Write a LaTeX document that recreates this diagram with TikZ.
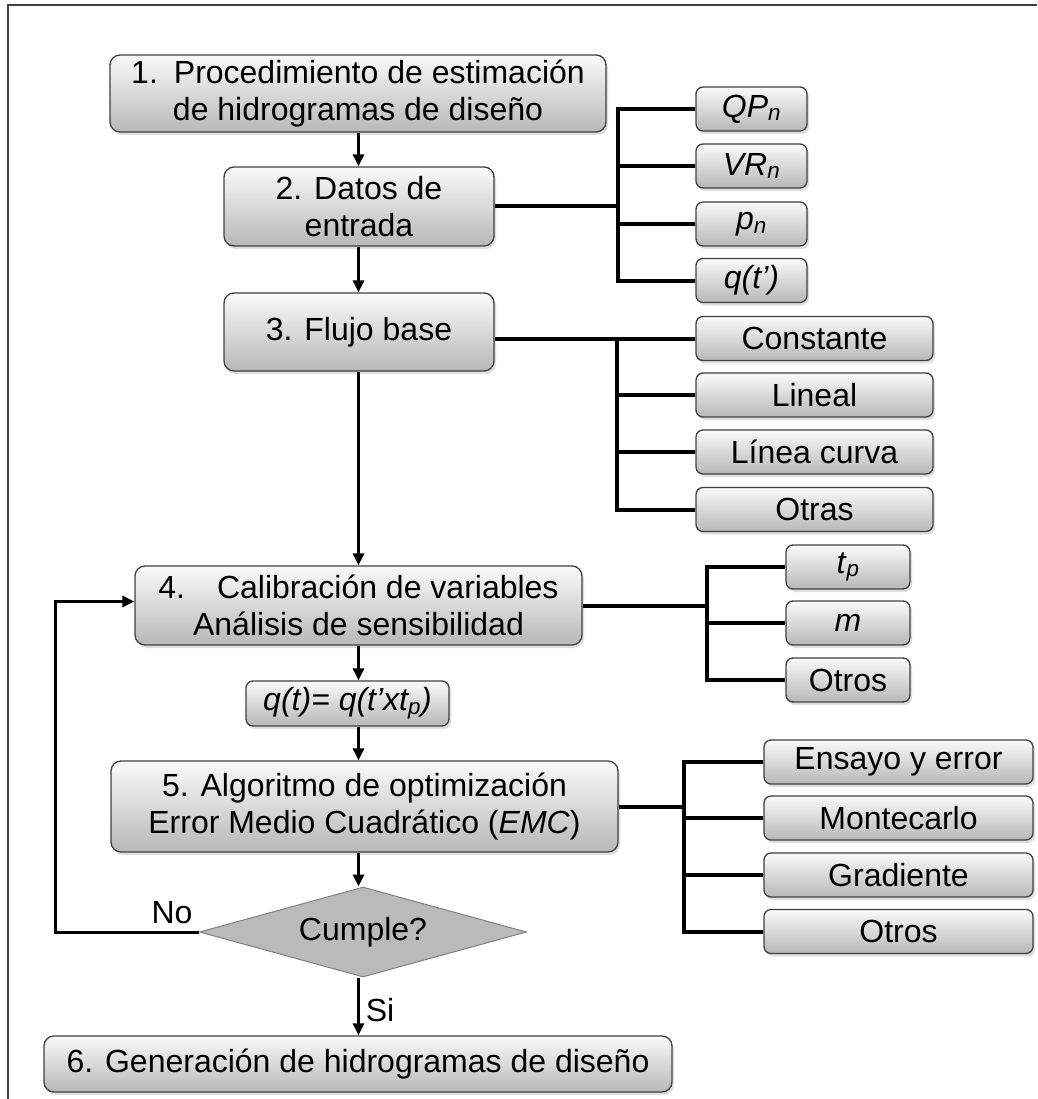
\documentclass[tikz,border=0pt]{standalone}
\usepackage{fontspec}
\setmainfont{Liberation Sans}
\usetikzlibrary{shapes.geometric,shadows,arrows.meta}
\newcommand\myfont{\fontsize{32}{37}\selectfont}
\tikzset{
  box/.style={draw=black!75, line width=1.3pt, rounded corners=10pt,
    top color=black!2, bottom color=black!28,
    drop shadow={opacity=0.25, shadow xshift=2pt, shadow yshift=-3pt},
    align=center, inner sep=0pt, font=\myfont},
  sbox/.style={box, rounded corners=7pt, minimum height=44pt},
  arr/.style={line width=3pt, -{Triangle[length=12pt,width=11pt]}},
  conn/.style={line width=4pt, line join=miter},
  lbl/.style={font=\myfont, inner sep=0pt},
}
\begin{document}
\begin{tikzpicture}[x=1pt,y=-1pt]
\useasboundingbox (0,0) rectangle (1037,1099);
\draw[line width=2pt, black!75] (8,1099) -- (8,5) -- (1037,5);

% main column
\node[box, minimum width=496pt, minimum height=77pt] (b1) at (358,93.5)
  {1.\enspace Procedimiento de estimación\\de hidrogramas de diseño};
\node[box, minimum width=270pt, minimum height=79pt] (b2) at (359,206.5)
  {2. Datos de\\entrada};
\node[box, minimum width=270pt, minimum height=78pt] (b3) at (359,332)
  {3. Flujo base};
\node[box, minimum width=447pt, minimum height=79pt] (b4) at (358.5,605.5)
  {4.\quad Calibración de variables\\Análisis de sensibilidad};
\node[box, rounded corners=7pt, minimum width=203pt, minimum height=45pt] (q) at (347.5,703.5)
  {\itshape q(t)= q(t’xt\textsubscript{p})};
\node[box, minimum width=507pt, minimum height=91pt] (b5) at (364.5,806.5)
  {5. Algoritmo de optimización\\Error Medio Cuadrático (\textit{EMC})};
\node[diamond, aspect=3.63, draw=black!50, fill=black!27, line width=1pt, minimum width=327pt,
  minimum height=90pt, inner sep=0pt, font=\myfont] (d) at (363,932) {Cumple?};
\node[box, minimum width=628pt, minimum height=56pt] (b6) at (358,1064)
  {6. Generación de hidrogramas de diseño};

% right column 1
\node[sbox, minimum width=111pt] (qp) at (751.5,109) {\textit{QP}\textsubscript{\textit{n}}};
\node[sbox, minimum width=111pt] (vr) at (751.5,166) {\textit{VR}\textsubscript{\textit{n}}};
\node[sbox, minimum width=111pt] (pn) at (751.5,224) {\textit{p}\textsubscript{\textit{n}}};
\node[sbox, minimum width=111pt] (qt) at (751.5,280.5) {\textit{q(t’)}};

% right column 2
\node[sbox, minimum width=237pt] (c1) at (814.5,338.5) {Constante};
\node[sbox, minimum width=237pt] (c2) at (814.5,395) {Lineal};
\node[sbox, minimum width=237pt] (c3) at (814.5,452) {Línea curva};
\node[sbox, minimum width=237pt] (c4) at (814.5,509.5) {Otras};

% right column 3
\node[sbox, minimum width=124pt] (tp) at (848,567) {\textit{t}\textsubscript{\textit{p}}};
\node[sbox, minimum width=124pt] (mm) at (848,623) {\textit{m}};
\node[sbox, minimum width=124pt] (o3) at (848,680) {Otros};

% right column 4
\node[sbox, minimum width=269pt] (e1) at (898.5,762) {Ensayo y error};
\node[sbox, minimum width=269pt] (e2) at (898.5,818) {Montecarlo};
\node[sbox, minimum width=269pt] (e3) at (898.5,875) {Gradiente};
\node[sbox, minimum width=269pt] (e4) at (898.5,931.5) {Otros};

% labels
\node[lbl] (no) at (172,913) {No};
\node[lbl] (si) at (380,1010) {Si};

% spine coordinates
\coordinate (j1) at (618,0);
\coordinate (j2) at (617,0);
\coordinate (j3) at (707,0);
\coordinate (j4) at (684,0);
\coordinate (lp) at (55,0);

% main arrows
\draw[arr] (b1.south -| b4.south) -- (b2.north -| b4.south);
\draw[arr] (b2.south -| b4.south) -- (b3.north -| b4.south);
\draw[arr] (b3.south -| b4.south) -- (b4.north);
\draw[arr] (b4.south) -- (q.north -| b4.south);
\draw[arr] (q.south -| b4.south) -- (b5.north -| b4.south);
\draw[arr] (b5.south -| b4.south) -- (d.north -| b4.south);
\draw[arr] (d.south -| b4.south) -- (b6.north -| b4.south);
\draw[arr] (d.west) -- (d.west -| lp) |- ([yshift=4pt]b4.west);

% brackets 1
\draw[conn] (qp.west) -- (qp.west -| j1) -- (qt.west -| j1) -- (qt.west);
\draw[conn] (vr.west) -- (vr.west -| j1);
\draw[conn] (pn.west) -- (pn.west -| j1);
\draw[conn] (b2.east) -- (b2.east -| j1);
% brackets 2
\draw[conn] (c1.west) -- (c1.west -| j2) -- (c4.west -| j2) -- (c4.west);
\draw[conn] (c2.west) -- (c2.west -| j2);
\draw[conn] (c3.west) -- (c3.west -| j2);
\draw[conn] (b3.east |- c1.west) -- (c1.west -| j2);
% brackets 3
\draw[conn] (tp.west) -- (tp.west -| j3) -- (o3.west -| j3) -- (o3.west);
\draw[conn] (mm.west) -- (mm.west -| j3);
\draw[conn] (b4.east) -- (b4.east -| j3);
% brackets 4
\draw[conn] (e1.west) -- (e1.west -| j4) -- (e4.west -| j4) -- (e4.west);
\draw[conn] (e2.west) -- (e2.west -| j4);
\draw[conn] (e3.west) -- (e3.west -| j4);
\draw[conn] (b5.east) -- (b5.east -| j4);
\end{tikzpicture}
\end{document}
